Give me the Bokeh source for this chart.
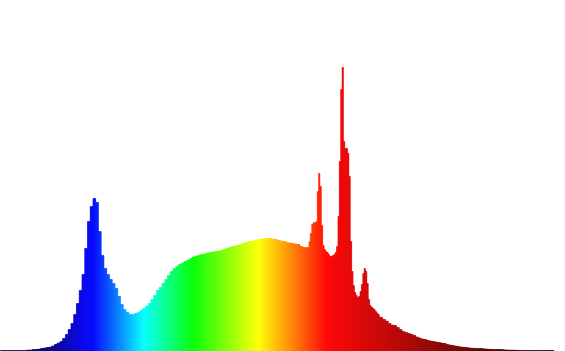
import numpy as np
from bokeh.plotting import figure
from bokeh.models import ColumnDataSource, Range1d
from bokeh.embed import file_html
from bokeh.resources import INLINE

# Wavelengths (nm): 2 nm steps, 1 nm steps through the narrow red emission lines
wavelength_blue_green = list(range(380, 600, 2))
wavelength_red_lines = list(range(600, 656, 1))
wavelength_far_red = list(range(656, 782, 2))

# Relative spectral intensity (arbitrary units)
intensity_blue_green = [
    1, 1, 1, 1, 1, 1, 1, 1, 1, 1,            # 380-398
    1.5, 1.5, 2, 2, 2.5, 3, 3.5, 4, 4.3, 5.5,  # 400-418
    7, 8.5, 10, 13, 17, 22, 28, 37, 48, 61,    # 420-438
    77, 103, 130, 145, 153, 149, 120, 96, 83, 77,  # 440-458
    72, 68, 63, 55, 47, 42, 39, 37.5, 37, 38,  # 460-478
    39, 41, 43, 45.5, 48, 52, 56, 61, 64, 68,  # 480-498
    72, 76, 80, 83, 85, 87, 88.5, 90, 91.5, 93,  # 500-518
    94.5, 95.5, 96.5, 97, 97.5, 98.5, 99, 99.5, 100, 100.5,  # 520-538
    101, 102, 103, 104, 105, 105.5, 106, 107, 108, 109,  # 540-558
    110, 110, 111, 111.5, 112, 112.5, 113, 113, 113, 112.5,  # 560-578
    112, 111, 110.5, 110, 109, 108.5, 108, 107.5, 107, 105,  # 580-598
]
intensity_red_lines = [
    104, 104, 104, 104, 110, 118, 127, 129, 128.5, 130,  # 600-609
    160, 178, 165, 126, 106, 102, 100, 99, 97, 95,       # 610-619
    95, 96, 97, 99, 105, 135, 190, 262, 284, 210,        # 620-629
    203, 203, 198, 175, 110, 80, 66, 59, 56, 54,         # 630-639
    55, 60, 67, 78, 83, 80, 68, 52, 46, 44.5,            # 640-649
    43, 42, 40, 38.5, 37, 34.5,                          # 650-655
]
intensity_far_red = [
    34, 32, 30.5, 28, 26.5, 26, 24, 22, 20, 19,      # 656-674
    18, 17, 16, 14.5, 13.5, 12.5, 12, 11, 10.5, 10,  # 676-694
    9.5, 9, 8.5, 8, 7, 6.5, 6, 5.5, 5, 4.5,          # 696-714
    4.2, 4, 3.5, 3.3, 3.1, 3, 3, 2.7, 2.5, 2.3,      # 716-734
    2.1, 2, 2, 2, 1.8, 1.6, 1.5, 1.4, 1.3, 1.2,      # 736-754
    1.1, 1, 1, 1, 1, 1, 1, 1, 1, 1,                  # 756-774
    1, 1, 1,                                         # 776-780
]

wavelengths = np.array(wavelength_blue_green + wavelength_red_lines + wavelength_far_red, dtype=float)
intensity = np.array(intensity_blue_green + intensity_red_lines + intensity_far_red, dtype=float)

# bar edges halfway between neighbouring samples
mids = (wavelengths[1:] + wavelengths[:-1]) / 2
left = np.concatenate([[wavelengths[0] - 1], mids])
right = np.concatenate([mids, [wavelengths[-1] + 1]])

# colour of each wavelength (style)
stops_nm = [380, 410, 420, 440, 447, 484, 520, 567, 617, 632, 655, 690, 720, 750, 780]
stops_rgb = np.array([
    (20, 0, 50), (0, 0, 100), (0, 0, 150), (0, 0, 235), (0, 0, 255),
    (0, 255, 255), (0, 255, 0), (255, 255, 0), (255, 0, 0), (232, 0, 0),
    (200, 0, 0), (150, 0, 0), (100, 0, 0), (50, 0, 0), (15, 0, 0),
], dtype=float)


def spectral_color(nm):
    rgb = [int(round(np.interp(nm, stops_nm, stops_rgb[:, k]))) for k in range(3)]
    return "#%02x%02x%02x" % tuple(rgb)


# each bar is drawn as thin colour slices (same height) so the hue changes smoothly
sl_left, sl_right, sl_top, sl_color = [], [], [], []
slice_nm = 0.5
for lo, hi, val in zip(left, right, intensity):
    n = max(1, int(round((hi - lo) / slice_nm)))
    edges = np.linspace(lo, hi, n + 1)
    for a, b in zip(edges[:-1], edges[1:]):
        sl_left.append(a)
        sl_right.append(b)
        sl_top.append(val)
        sl_color.append(spectral_color((a + b) / 2))

src = ColumnDataSource(dict(left=sl_left, right=sl_right, top=sl_top,
                            bottom=[0] * len(sl_top), color=sl_color))

px_per_nm = 1.38
W, H = 565, 351
x0 = 380
x1 = x0 + W / px_per_nm

p = figure(width=W, height=H, output_backend="svg", toolbar_location=None,
           x_range=Range1d(x0, x1), y_range=Range1d(0, H),
           min_border=0)
p.axis.visible = False
p.grid.visible = False
p.outline_line_color = None
p.background_fill_color = "white"
p.border_fill_color = "white"

p.quad(left="left", right="right", top="top", bottom="bottom", source=src,
       fill_color="color", line_color="color", line_width=0.5)

open("out.html", "w").write(file_html(p, INLINE))
